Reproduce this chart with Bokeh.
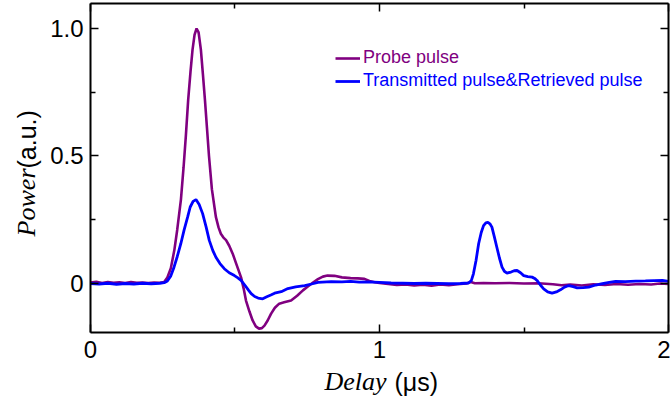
import math
from bokeh.plotting import figure
from bokeh.models import (Range1d, FixedTicker, LinearAxis, Label, Legend, LegendItem)
from bokeh.embed import file_html
from bokeh.resources import INLINE

# ---------------- data ----------------
probe_x = [0.000, 0.020, 0.040, 0.060, 0.080, 0.100, 0.120, 0.140, 0.160, 0.180,
           0.200, 0.220, 0.240, 0.255, 0.266, 0.278, 0.290, 0.300, 0.313, 0.322,
           0.330, 0.338, 0.346, 0.353, 0.360, 0.367, 0.374, 0.382, 0.389, 0.396,
           0.403, 0.410, 0.420, 0.434, 0.443, 0.451, 0.460, 0.469, 0.480, 0.492,
           0.505, 0.521, 0.530, 0.538, 0.550, 0.561, 0.572, 0.583, 0.593, 0.602,
           0.613, 0.625, 0.638, 0.653, 0.670, 0.694, 0.715, 0.735, 0.752, 0.770,
           0.787, 0.804, 0.820, 0.844, 0.870, 0.900, 0.925, 0.948, 0.965, 0.983,
           1.000, 1.030, 1.060, 1.090, 1.120, 1.150, 1.180, 1.210, 1.240, 1.270,
           1.300, 1.316, 1.330, 1.360, 1.400, 1.450, 1.500, 1.550, 1.600, 1.630,
           1.660, 1.700, 1.740, 1.780, 1.820, 1.860, 1.900, 1.940, 1.970, 2.000]
probe_y = [0.004, 0.007, 0.002, 0.006, 0.003, 0.005, 0.002, 0.006, 0.003, 0.004,
           0.002, 0.004, 0.003, 0.006, 0.024, 0.060, 0.130, 0.210, 0.330, 0.455,
           0.580, 0.720, 0.830, 0.916, 0.975, 1.000, 0.985, 0.916, 0.820, 0.720,
           0.610, 0.500, 0.370, 0.260, 0.220, 0.195, 0.180, 0.170, 0.148, 0.117,
           0.075, 0.024, -0.020, -0.067, -0.110, -0.145, -0.168, -0.177, -0.175, -0.165,
           -0.145, -0.118, -0.095, -0.079, -0.074, -0.067, -0.048, -0.027, -0.012, 0.004,
           0.017, 0.027, 0.031, 0.030, 0.024, 0.021, 0.020, 0.018, 0.010, 0.005,
           0.002, -0.002, -0.006, -0.004, -0.008, -0.005, -0.009, -0.004, -0.007, -0.003,
           0.000, 0.006, 0.001, 0.002, 0.001, 0.002, 0.000, 0.001, -0.003, -0.007,
           -0.004, -0.008, -0.003, -0.006, -0.002, -0.005, -0.002, -0.004, 0.000, -0.002]

trans_x = [0.000, 0.030, 0.060, 0.090, 0.120, 0.150, 0.180, 0.210, 0.240, 0.255,
           0.266, 0.278, 0.289, 0.300, 0.3125, 0.324, 0.336, 0.345, 0.355, 0.365,
           0.376, 0.388, 0.400, 0.411, 0.423, 0.434, 0.448, 0.463, 0.480, 0.498,
           0.510, 0.521, 0.535, 0.546, 0.556, 0.568, 0.580, 0.596, 0.610, 0.624,
           0.637, 0.660, 0.683, 0.710, 0.741, 0.765, 0.787, 0.833, 0.870, 0.900,
           0.930, 0.960, 1.000, 1.040, 1.080, 1.120, 1.160, 1.200, 1.240, 1.280,
           1.308, 1.318, 1.325, 1.334, 1.343, 1.352, 1.360, 1.368, 1.375, 1.382,
           1.389, 1.397, 1.406, 1.415, 1.424, 1.432, 1.441, 1.455, 1.466, 1.476,
           1.488, 1.499, 1.513, 1.528, 1.537, 1.545, 1.556, 1.568, 1.582, 1.597,
           1.612, 1.626, 1.640, 1.655, 1.670, 1.684, 1.705, 1.724, 1.748, 1.771,
           1.795, 1.817, 1.850, 1.887, 1.920, 1.950, 1.979, 2.000]
trans_y = [0.000, -0.002, 0.001, -0.003, 0.000, -0.002, 0.001, -0.001, 0.001, 0.003,
           0.010, 0.030, 0.064, 0.105, 0.156, 0.210, 0.260, 0.300, 0.322, 0.329,
           0.310, 0.274, 0.222, 0.169, 0.130, 0.103, 0.078, 0.058, 0.042, 0.031,
           0.022, 0.012, -0.008, -0.025, -0.040, -0.051, -0.057, -0.060, -0.052, -0.045,
           -0.038, -0.032, -0.020, -0.013, -0.008, -0.002, 0.004, 0.007, 0.006, 0.008,
           0.005, 0.006, 0.004, 0.002, 0.001, 0.000, 0.001, 0.000, -0.001, 0.000,
           0.002, 0.012, 0.038, 0.090, 0.156, 0.200, 0.227, 0.238, 0.240, 0.234,
           0.221, 0.185, 0.142, 0.100, 0.064, 0.048, 0.041, 0.045, 0.050, 0.051,
           0.042, 0.031, 0.027, 0.025, 0.020, 0.012, -0.005, -0.021, -0.033, -0.038,
           -0.033, -0.025, -0.014, -0.008, -0.012, -0.017, -0.016, -0.014, -0.006, -0.001,
           0.004, 0.008, 0.007, 0.009, 0.010, 0.011, 0.012, 0.008]

x_major = [0, 1, 2]
x_minor = [0.5, 1.5]
y_major = [0, 0.5, 1.0]
y_minor = [0.25, 0.75]
y_tick_labels = {0: "0", 0.5: "0.5", 1: "1.0"}

# plotted box (data limits) and the full view that also holds the axis titles
box_x = (0.0, 2.0)
box_y = (-0.193, 1.098)
view_x = (-0.3114, 2.0069)
view_y = (-0.4667, 1.1098)

series_names = ["Probe pulse", "Transmitted pulse&Retrieved pulse"]
series_colors = ["#800080", "#0000FF"]

SANS = "Liberation Sans"
SERIF = "Liberation Serif"

p = figure(width=670, height=402,
           x_range=Range1d(*view_x), y_range=Range1d(*view_y),
           output_backend="svg", toolbar_location=None, min_border=0)
p.title.visible = False
p.xgrid.visible = False
p.ygrid.visible = False
p.background_fill_color = "white"
p.border_fill_color = "white"
p.outline_line_color = None


def style_axis(ax, ticker, show_labels):
    ax.ticker = ticker
    ax.axis_line_color = "black"
    ax.axis_line_width = 2
    ax.major_tick_in = 8
    ax.major_tick_out = 0
    ax.minor_tick_in = 5
    ax.minor_tick_out = 0
    ax.major_tick_line_width = 1.5
    ax.minor_tick_line_width = 1.5
    ax.major_tick_line_color = "black"
    ax.minor_tick_line_color = "black"
    if show_labels:
        ax.major_label_text_font = SANS
        ax.major_label_text_font_size = "24px"
        ax.major_label_text_color = "black"
        ax.major_label_standoff = 8
    else:
        ax.major_label_text_font_size = "0px"
        ax.major_label_text_alpha = 0
        ax.major_label_standoff = 0


bottom = p.xaxis[0]
style_axis(bottom, FixedTicker(ticks=x_major, minor_ticks=x_minor), True)
bottom.fixed_location = box_y[0]
bottom.bounds = box_x

left = p.yaxis[0]
style_axis(left, FixedTicker(ticks=y_major, minor_ticks=y_minor), True)
left.fixed_location = box_x[0]
left.bounds = box_y
left.major_label_overrides = y_tick_labels
left.major_label_standoff = 7

top = LinearAxis(fixed_location=box_y[1], bounds=box_x)
style_axis(top, FixedTicker(ticks=x_major, minor_ticks=x_minor), False)
p.add_layout(top, "above")
right = LinearAxis(fixed_location=box_x[1], bounds=box_y)
style_axis(right, FixedTicker(ticks=y_major, minor_ticks=y_minor), False)
p.add_layout(right, "right")

r1 = p.line(probe_x, probe_y, line_color=series_colors[0], line_width=2.6)
r2 = p.line(trans_x, trans_y, line_color=series_colors[1], line_width=2.8)

for r, name, col, ly in zip([r1, r2], series_names, series_colors, [334, 311]):
    leg = Legend(items=[LegendItem(label=name, renderers=[r])],
                 location=(335, ly), padding=0, margin=0, spacing=0,
                 glyph_width=25, glyph_height=20, label_height=20,
                 label_standoff=3, border_line_color=None,
                 background_fill_alpha=0,
                 label_text_color=col, label_text_font=SANS,
                 label_text_font_size="18px")
    p.add_layout(leg)

# axis titles with mixed fonts (screen units from the bottom-left corner)
title_specs = [
    dict(x=386, y=21, text="Delay", font=SERIF, style="italic", size="26px", align="right", angle=0),
    dict(x=394, y=21, text="(\u03bcs)", font=SANS, style="normal", size="25px", align="left", angle=0),
    dict(x=26, y=234, text="Power", font=SERIF, style="italic", size="26px", align="right", angle=math.pi / 2),
    dict(x=26, y=234, text="(a.u.)", font=SANS, style="normal", size="25px", align="left", angle=math.pi / 2),
]
for s in title_specs:
    p.add_layout(Label(x=s["x"], y=s["y"], x_units="screen", y_units="screen",
                       text=s["text"], angle=s["angle"],
                       text_font=s["font"], text_font_style=s["style"],
                       text_font_size=s["size"], text_align=s["align"],
                       text_baseline="alphabetic", text_color="black"))

open("out.html", "w").write(file_html(p, INLINE))
